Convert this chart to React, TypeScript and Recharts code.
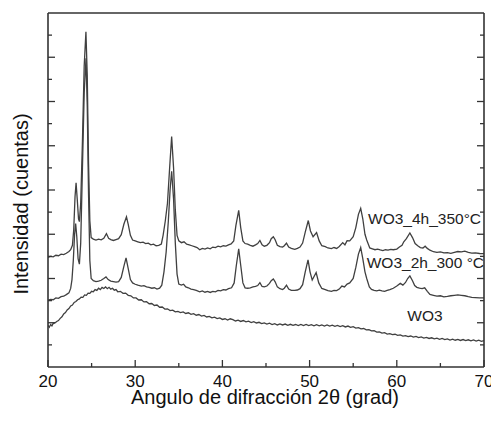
import React from 'react';
import { LineChart, Line, XAxis, YAxis, ReferenceDot } from 'recharts';

// 2θ (deg) vs intensity (arbitrary units, traces offset like the original figure)
const wo3_4h_350: [number, number][] = [
  [20.0, 4.95], [20.3, 5.0], [20.6, 4.98], [20.9, 5.05], [21.2, 5.03], [21.5, 5.1], [21.8, 5.08], [22.1, 5.14],
  [22.4, 5.22], [22.6, 5.3], [22.8, 5.5], [22.95, 6.2], [23.1, 7.7], [23.22, 8.33], [23.35, 7.6], [23.5, 6.7],
  [23.6, 6.57], [23.75, 7.4], [23.95, 10.2], [24.15, 13.6], [24.35, 15.15], [24.5, 13.2], [24.65, 9.2], [24.8, 6.6],
  [24.95, 5.85], [25.2, 5.78], [25.5, 5.74], [25.8, 5.78], [26.1, 5.75], [26.4, 5.82], [26.7, 6.03], [26.95, 5.82],
  [27.2, 5.76], [27.5, 5.72], [27.8, 5.76], [28.1, 5.8], [28.4, 5.98], [28.7, 6.45], [29.0, 6.79], [29.2, 6.45],
  [29.45, 5.95], [29.7, 5.74], [30.0, 5.7], [30.3, 5.66], [30.6, 5.62], [30.9, 5.64], [31.2, 5.58], [31.5, 5.6],
  [31.8, 5.52], [32.1, 5.55], [32.4, 5.48], [32.7, 5.5], [33.0, 5.56], [33.2, 5.95], [33.45, 6.6], [33.7, 7.4],
  [33.95, 9.0], [34.18, 10.42], [34.4, 9.0], [34.6, 7.1], [34.8, 5.95], [35.0, 5.7], [35.3, 5.62], [35.6, 5.66],
  [35.9, 5.55], [36.2, 5.52], [36.5, 5.48], [36.8, 5.44], [37.1, 5.4], [37.4, 5.3], [37.7, 5.36], [38.0, 5.33],
  [38.3, 5.38], [38.6, 5.34], [38.9, 5.42], [39.2, 5.4], [39.5, 5.46], [39.8, 5.43], [40.1, 5.48], [40.4, 5.46],
  [40.7, 5.52], [41.0, 5.56], [41.3, 5.7], [41.55, 6.4], [41.87, 7.08], [42.1, 6.3], [42.35, 5.7], [42.6, 5.58],
  [42.9, 5.55], [43.2, 5.5], [43.5, 5.46], [43.8, 5.52], [44.05, 5.58], [44.3, 5.72], [44.55, 5.52], [44.8, 5.46],
  [45.1, 5.5], [45.4, 5.62], [45.6, 5.8], [45.84, 5.89], [46.05, 5.75], [46.3, 5.5], [46.6, 5.44], [46.9, 5.42],
  [47.1, 5.48], [47.35, 5.6], [47.6, 5.42], [47.9, 5.36], [48.3, 5.32], [48.6, 5.36], [48.9, 5.42], [49.2, 5.6],
  [49.5, 6.1], [49.85, 6.62], [50.1, 6.15], [50.4, 5.89], [50.8, 6.08], [51.1, 5.7], [51.4, 5.48], [51.8, 5.44],
  [52.1, 5.38], [52.5, 5.35], [52.8, 5.4], [53.1, 5.36], [53.4, 5.45], [53.8, 5.62], [54.05, 5.52], [54.3, 5.71],
  [54.6, 5.7], [55.0, 5.89], [55.3, 6.3], [55.6, 6.9], [55.86, 7.17], [56.1, 6.7], [56.35, 6.0], [56.55, 5.74],
  [56.9, 5.38], [57.2, 5.34], [57.5, 5.3], [57.8, 5.33], [58.1, 5.29], [58.4, 5.26], [58.7, 5.3], [59.0, 5.28],
  [59.3, 5.32], [59.6, 5.3], [60.0, 5.33], [60.3, 5.42], [60.6, 5.5], [60.8, 5.66], [61.1, 5.8], [61.5, 6.06],
  [61.8, 5.85], [62.1, 5.58], [62.4, 5.48], [62.7, 5.4], [63.0, 5.38], [63.25, 5.46], [63.5, 5.36], [63.8, 5.28],
  [64.2, 5.21], [64.6, 5.18], [65.0, 5.2], [65.4, 5.16], [65.8, 5.17], [66.2, 5.14], [66.6, 5.18], [67.0, 5.22],
  [67.4, 5.2], [67.8, 5.24], [68.2, 5.18], [68.6, 5.15], [69.0, 5.16], [69.5, 5.13], [70.0, 5.12],
];

const wo3_2h_300: [number, number][] = [
  [20.0, 3.02], [20.3, 3.06], [20.6, 3.04], [20.9, 3.12], [21.2, 3.1], [21.5, 3.18], [21.8, 3.2], [22.1, 3.27],
  [22.4, 3.35], [22.6, 3.55], [22.75, 3.95], [22.9, 4.8], [23.05, 6.0], [23.17, 6.48], [23.3, 5.9], [23.45, 4.9],
  [23.6, 4.65], [23.75, 5.6], [23.95, 9.0], [24.15, 12.4], [24.36, 13.95], [24.5, 11.8], [24.65, 7.8], [24.8, 4.8],
  [24.95, 4.0], [25.2, 3.9], [25.5, 3.86], [25.8, 3.88], [26.1, 3.92], [26.4, 4.0], [26.65, 4.07], [26.9, 3.95],
  [27.2, 3.88], [27.5, 3.86], [27.8, 3.84], [28.1, 3.86], [28.4, 4.05], [28.7, 4.55], [28.95, 4.93], [29.2, 4.45],
  [29.45, 3.95], [29.7, 3.8], [30.0, 3.74], [30.3, 3.7], [30.7, 3.66], [31.0, 3.68], [31.3, 3.62], [31.6, 3.6],
  [31.9, 3.56], [32.2, 3.58], [32.5, 3.52], [32.8, 3.56], [33.05, 3.7], [33.3, 4.3], [33.55, 5.2], [33.8, 6.6],
  [34.0, 8.0], [34.18, 8.85], [34.4, 7.6], [34.6, 5.6], [34.8, 4.2], [35.0, 3.75], [35.3, 3.7], [35.55, 3.74],
  [35.8, 3.62], [36.1, 3.58], [36.4, 3.52], [36.7, 3.5], [37.0, 3.46], [37.4, 3.4], [37.7, 3.44], [38.0, 3.38],
  [38.3, 3.42], [38.6, 3.37], [38.9, 3.42], [39.2, 3.4], [39.5, 3.46], [39.8, 3.44], [40.1, 3.5], [40.4, 3.48],
  [40.7, 3.54], [41.05, 3.58], [41.35, 3.8], [41.6, 4.6], [41.87, 5.34], [42.1, 4.6], [42.35, 3.8], [42.6, 3.58],
  [42.9, 3.56], [43.2, 3.58], [43.5, 3.62], [43.8, 3.64], [44.05, 3.68], [44.3, 3.81], [44.55, 3.64], [44.8, 3.62],
  [45.1, 3.66], [45.4, 3.78], [45.6, 3.9], [45.84, 3.98], [46.05, 3.85], [46.3, 3.62], [46.6, 3.54], [46.9, 3.5],
  [47.1, 3.56], [47.35, 3.7], [47.6, 3.52], [47.9, 3.46], [48.3, 3.46], [48.6, 3.48], [48.9, 3.54], [49.2, 3.72],
  [49.5, 4.3], [49.82, 4.84], [50.05, 4.3], [50.3, 3.93], [50.75, 4.27], [51.05, 3.8], [51.4, 3.55], [51.8, 3.5],
  [52.1, 3.45], [52.5, 3.42], [52.8, 3.46], [53.1, 3.45], [53.4, 3.52], [53.7, 3.66], [54.0, 3.62], [54.3, 3.75],
  [54.6, 3.8], [55.0, 4.0], [55.3, 4.5], [55.6, 5.1], [55.86, 5.4], [56.1, 4.9], [56.35, 4.3], [56.55, 4.0],
  [56.85, 3.62], [57.1, 3.51], [57.4, 3.46], [57.7, 3.44], [58.0, 3.47], [58.3, 3.44], [58.6, 3.42], [58.9, 3.46],
  [59.2, 3.5], [59.6, 3.56], [60.0, 3.66], [60.4, 3.78], [60.7, 3.7], [61.0, 3.82], [61.25, 4.0], [61.5, 4.12],
  [61.8, 3.9], [62.05, 3.68], [62.3, 3.6], [62.6, 3.56], [62.9, 3.54], [63.2, 3.58], [63.5, 3.42], [63.8, 3.28],
  [64.2, 3.24], [64.6, 3.2], [65.0, 3.22], [65.4, 3.17], [65.8, 3.19], [66.2, 3.22], [66.6, 3.24], [67.0, 3.26],
  [67.4, 3.24], [67.8, 3.22], [68.2, 3.18], [68.6, 3.15], [69.0, 3.14], [69.5, 3.12], [70.0, 3.12],
];

const wo3: [number, number][] = [
  [20.0, 1.88], [20.15, 1.8], [20.3, 1.92], [20.45, 1.86], [20.6, 1.97], [20.8, 1.99], [21.0, 2.06], [21.2, 2.1],
  [21.4, 2.2], [21.6, 2.27], [21.8, 2.4], [22.0, 2.46], [22.2, 2.58], [22.4, 2.64], [22.6, 2.76], [22.8, 2.8],
  [23.0, 2.92], [23.2, 2.96], [23.4, 3.04], [23.6, 3.08], [23.8, 3.16], [24.0, 3.15], [24.2, 3.26], [24.4, 3.24],
  [24.6, 3.34], [24.8, 3.33], [25.0, 3.42], [25.2, 3.4], [25.4, 3.5], [25.6, 3.46], [25.8, 3.56], [26.0, 3.5],
  [26.2, 3.6], [26.4, 3.55], [26.6, 3.62], [26.8, 3.54], [27.0, 3.6], [27.2, 3.52], [27.4, 3.56], [27.6, 3.47],
  [27.8, 3.5], [28.0, 3.4], [28.3, 3.42], [28.6, 3.33], [28.9, 3.34], [29.2, 3.24], [29.5, 3.22], [29.8, 3.12],
  [30.1, 3.12], [30.4, 3.03], [30.7, 3.04], [31.0, 2.94], [31.3, 2.95], [31.6, 2.86], [31.9, 2.87], [32.2, 2.78],
  [32.5, 2.8], [32.8, 2.7], [33.1, 2.71], [33.4, 2.62], [33.7, 2.63], [34.0, 2.55], [34.3, 2.57], [34.6, 2.49],
  [34.9, 2.51], [35.2, 2.46], [35.5, 2.49], [35.8, 2.42], [36.1, 2.45], [36.4, 2.38], [36.7, 2.41], [37.0, 2.34],
  [37.3, 2.37], [37.6, 2.3], [37.9, 2.33], [38.2, 2.26], [38.5, 2.29], [38.8, 2.22], [39.1, 2.25], [39.4, 2.19],
  [39.7, 2.22], [40.0, 2.15], [40.3, 2.18], [40.6, 2.12], [40.9, 2.18], [41.2, 2.14], [41.5, 2.08], [41.8, 2.12],
  [42.1, 2.06], [42.4, 2.1], [42.7, 2.04], [43.0, 2.07], [43.3, 2.01], [43.6, 2.05], [43.9, 1.99], [44.2, 2.02],
  [44.5, 1.96], [44.8, 1.99], [45.1, 1.94], [45.4, 1.98], [45.7, 1.92], [46.0, 1.96], [46.3, 1.9], [46.6, 1.95],
  [46.9, 1.9], [47.2, 1.94], [47.5, 1.88], [47.8, 1.93], [48.1, 1.88], [48.4, 1.92], [48.7, 1.87], [49.0, 1.92],
  [49.3, 1.87], [49.6, 1.92], [49.9, 1.87], [50.2, 1.91], [50.5, 1.86], [50.8, 1.91], [51.1, 1.86], [51.4, 1.9],
  [51.7, 1.85], [52.0, 1.9], [52.3, 1.85], [52.6, 1.89], [52.9, 1.84], [53.2, 1.88], [53.5, 1.83], [53.8, 1.87],
  [54.1, 1.81], [54.4, 1.85], [54.7, 1.79], [55.0, 1.82], [55.3, 1.76], [55.6, 1.78], [55.9, 1.72], [56.2, 1.74],
  [56.5, 1.68], [56.8, 1.69], [57.1, 1.63], [57.4, 1.64], [57.7, 1.58], [58.0, 1.59], [58.3, 1.53], [58.6, 1.55],
  [58.9, 1.49], [59.2, 1.51], [59.5, 1.46], [59.8, 1.48], [60.1, 1.43], [60.4, 1.45], [60.7, 1.4], [61.0, 1.42],
  [61.3, 1.37], [61.6, 1.4], [61.9, 1.35], [62.2, 1.38], [62.5, 1.33], [62.8, 1.36], [63.1, 1.31], [63.4, 1.34],
  [63.7, 1.29], [64.0, 1.32], [64.3, 1.27], [64.6, 1.3], [64.9, 1.25], [65.2, 1.29], [65.5, 1.24], [65.8, 1.27],
  [66.1, 1.22], [66.4, 1.26], [66.7, 1.21], [67.0, 1.25], [67.3, 1.2], [67.6, 1.24], [67.9, 1.19], [68.2, 1.23],
  [68.5, 1.18], [68.8, 1.22], [69.1, 1.17], [69.4, 1.21], [69.7, 1.16], [70.0, 1.19],
];

const xTicks = [20, 25, 30, 35, 40, 45, 50, 55, 60, 65, 70];
const yTicks = [1, 2, 3, 4, 5, 6, 7, 8, 9, 10, 11, 12, 13, 14, 15];

const toRows = (pts: [number, number][]) => pts.map(([t, v]) => ({ t, v }));

const FONT = '"Liberation Sans", Arial, sans-serif';
const AX = '#333';
const TRACE = '#404040';

// ticks point into the plot like the original
const BottomTick = (p: any) => {
  const major = p.payload.value % 10 === 0;
  return (
    <g>
      <line x1={p.x} x2={p.x} y1={p.y} y2={p.y - (major ? 7 : 4)} stroke={AX} strokeWidth={1.3} />
      {major && (
        <text x={p.x} y={p.y + 20} textAnchor="middle" fontSize={17} fontFamily={FONT} fill="#111">
          {p.payload.value}
        </text>
      )}
    </g>
  );
};

const TopTick = (p: any) => {
  const major = p.payload.value % 10 === 0;
  return <line x1={p.x} x2={p.x} y1={p.y} y2={p.y + (major ? 7 : 4)} stroke={AX} strokeWidth={1.3} />;
};

const LeftTick = (p: any) => {
  const major = p.payload.value % 2 === 0;
  return <line x1={p.x} x2={p.x + (major ? 7 : 4)} y1={p.y} y2={p.y} stroke={AX} strokeWidth={1.3} />;
};

const RightTick = (p: any) => {
  const major = p.payload.value % 2 === 0;
  return <line x1={p.x} x2={p.x - (major ? 7 : 4)} y1={p.y} y2={p.y} stroke={AX} strokeWidth={1.3} />;
};

const traceLabel = (value: string) => ({
  value,
  position: 'right' as const,
  offset: 0,
  fill: '#222',
  fontSize: 15.5,
  fontFamily: FONT,
});

export default function App() {
  return (
    <div style={{ position: 'absolute', left: 0, top: 0, width: 491, height: 425, background: '#fff' }}>
      <LineChart width={491} height={425} margin={{ top: 12, right: 6, bottom: 57, left: 47 }}>
        <XAxis
          type="number"
          dataKey="t"
          domain={[20, 70]}
          ticks={xTicks}
          interval={0}
          allowDataOverflow
          height={1}
          tickSize={0}
          tickMargin={0}
          tickLine={false}
          tick={(p: any) => <BottomTick {...p} />}
          axisLine={{ stroke: AX, strokeWidth: 1.6 }}
          label={{
            content: (lp: any) => {
              const vb = lp.viewBox || { x: 48, y: 367, width: 436, height: 1 };
              return (
                <text
                  x={vb.x + vb.width / 2 - 1}
                  y={vb.y + 37}
                  textAnchor="middle"
                  fontSize={20}
                  fontFamily={FONT}
                  fill="#111"
                >
                  Angulo de difracción 2θ (grad)
                </text>
              );
            },
          }}
        />
        <XAxis
          xAxisId="top"
          orientation="top"
          type="number"
          domain={[20, 70]}
          ticks={xTicks}
          interval={0}
          allowDataOverflow
          height={1}
          tickSize={0}
          tickMargin={0}
          tickLine={false}
          tick={(p: any) => <TopTick {...p} />}
          axisLine={{ stroke: AX, strokeWidth: 1.6 }}
        />
        <YAxis
          type="number"
          domain={[0, 16]}
          ticks={yTicks}
          interval={0}
          allowDataOverflow
          width={1}
          tickSize={0}
          tickMargin={0}
          tickLine={false}
          tick={(p: any) => <LeftTick {...p} />}
          axisLine={{ stroke: AX, strokeWidth: 1.6 }}
          label={{
            content: (lp: any) => {
              const vb = lp.viewBox || { x: 47, y: 13, width: 1, height: 354 };
              const cx = vb.x + vb.width - 27;
              const cy = vb.y + vb.height / 2 + 14;
              return (
                <text
                  x={cx}
                  y={cy}
                  transform={`rotate(-90 ${cx} ${cy})`}
                  textAnchor="middle"
                  dominantBaseline="central"
                  fontSize={20}
                  fontFamily={FONT}
                  fill="#111"
                >
                  Intensidad (cuentas)
                </text>
              );
            },
          }}
        />
        <YAxis
          yAxisId="right"
          orientation="right"
          type="number"
          domain={[0, 16]}
          ticks={yTicks}
          interval={0}
          allowDataOverflow
          width={1}
          tickSize={0}
          tickMargin={0}
          tickLine={false}
          tick={(p: any) => <RightTick {...p} />}
          axisLine={{ stroke: AX, strokeWidth: 1.6 }}
        />
        <Line data={toRows(wo3_4h_350)} dataKey="v" type="linear" stroke={TRACE} strokeWidth={1.3} dot={false} isAnimationActive={false} />
        <Line data={toRows(wo3_2h_300)} dataKey="v" type="linear" stroke={TRACE} strokeWidth={1.3} dot={false} isAnimationActive={false} />
        <Line data={toRows(wo3)} dataKey="v" type="linear" stroke={TRACE} strokeWidth={1.3} dot={false} isAnimationActive={false} />
        <ReferenceDot x={56.7} y={6.7} r={0} fill="none" stroke="none" label={traceLabel('WO3_4h_350°C')} />
        <ReferenceDot x={56.55} y={4.71} r={0} fill="none" stroke="none" label={traceLabel('WO3_2h_300 °C')} />
        <ReferenceDot x={61.2} y={2.32} r={0} fill="none" stroke="none" label={traceLabel('WO3')} />
      </LineChart>
    </div>
  );
}
